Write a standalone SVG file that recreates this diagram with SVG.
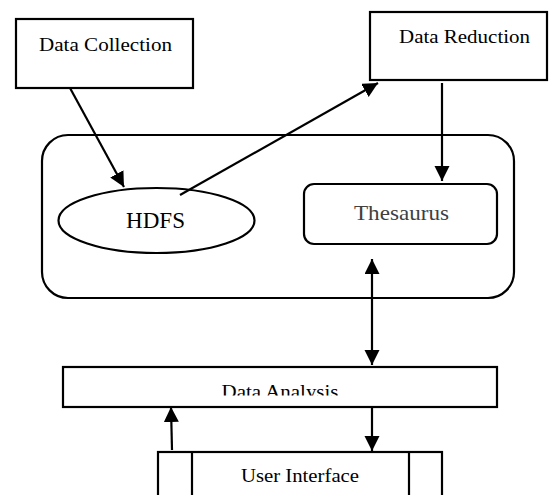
<svg xmlns="http://www.w3.org/2000/svg" width="552" height="495" viewBox="0 0 552 495">
<style>
.box{fill:#fff;stroke:#000;stroke-width:2.2}
.ln{fill:none;stroke:#000;stroke-width:2.2}
.t{font-family:'Liberation Serif','DejaVu Serif','Times New Roman',serif;font-size:19px;fill:#000;text-anchor:middle}
.con{stroke:#000;stroke-width:2.2;fill:none}
</style>
<defs>
<marker id="ah" markerUnits="userSpaceOnUse" markerWidth="16" markerHeight="16" viewBox="0 0 16 16" refX="15" refY="7.5" orient="auto-start-reverse">
<path d="M0,0 L15,7.5 L0,15 z" fill="#000"/>
</marker>
<clipPath id="daclip"><rect x="63" y="367" width="434" height="28.5"/></clipPath>
</defs>
<rect width="552" height="495" fill="#fff"/>
<g id="container">
<rect class="box" x="42" y="135" width="472" height="163" rx="26"/>
</g>
<g id="data-collection">
<rect class="box" x="16" y="19" width="177" height="69"/>
<text class="t" font-family="Liberation Serif, serif" x="105.5" y="51" textLength="133" lengthAdjust="spacingAndGlyphs">Data Collection</text>
</g>
<g id="data-reduction">
<rect class="box" x="370" y="12" width="177" height="68"/>
<text class="t" font-family="Liberation Serif, serif" x="464.5" y="43" textLength="131" lengthAdjust="spacingAndGlyphs">Data Reduction</text>
</g>
<g id="hdfs">
<ellipse class="box" cx="156.5" cy="220.5" rx="98" ry="32.5"/>
<text class="t" font-family="Liberation Serif, serif" x="155.5" y="228" style="font-size:23px" textLength="59" lengthAdjust="spacingAndGlyphs">HDFS</text>
</g>
<g id="thesaurus">
<rect class="box" x="304" y="184" width="193" height="60" rx="10"/>
<text class="t" font-family="Liberation Serif, serif" x="401.5" y="220" style="font-size:22px;fill:#404040" textLength="95" lengthAdjust="spacingAndGlyphs">Thesaurus</text>
</g>
<g id="data-analysis">
<rect class="box" x="63" y="367" width="434" height="40"/>
<text class="t" font-family="Liberation Serif, serif" x="280" y="398" clip-path="url(#daclip)" textLength="117" lengthAdjust="spacingAndGlyphs">Data Analysis</text>
</g>
<g id="user-interface">
<rect class="box" x="158" y="452" width="284" height="60"/>
<line class="ln" x1="192" y1="452" x2="192" y2="500"/>
<line class="ln" x1="409" y1="452" x2="409" y2="500"/>
<text class="t" font-family="Liberation Serif, serif" x="300" y="482" textLength="118" lengthAdjust="spacingAndGlyphs">User Interface</text>
</g>
<g id="connectors">
<line class="con" x1="70" y1="88" x2="124" y2="187" marker-end="url(#ah)"/>
<line class="con" x1="180" y1="195" x2="378" y2="83" marker-end="url(#ah)"/>
<line class="con" x1="442" y1="83" x2="442" y2="181" marker-end="url(#ah)"/>
<line class="con" x1="372" y1="259" x2="372" y2="365" marker-start="url(#ah)" marker-end="url(#ah)"/>
<line class="con" x1="172" y1="450" x2="171" y2="407" marker-end="url(#ah)"/>
<line class="con" x1="372" y1="407" x2="372" y2="451" marker-end="url(#ah)"/>
</g>
</svg>
